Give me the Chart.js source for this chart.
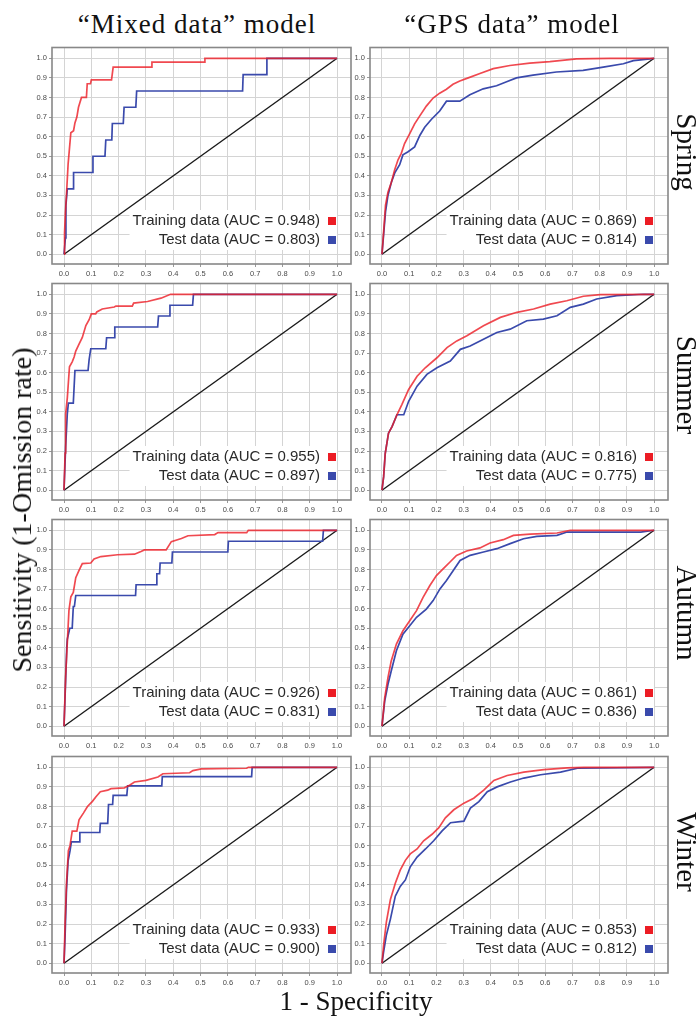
<!DOCTYPE html>
<html>
<head>
<meta charset="utf-8">
<script src="https://cdn.jsdelivr.net/npm/chart.js@4.4.1/dist/chart.umd.min.js"></script>
<style>
  html, body { margin: 0; padding: 0; background: #fff; }
  #page { position: relative; width: 699px; height: 1021px; overflow: hidden; font-family: 'Liberation Serif', 'Times New Roman', serif; color: #111; }
  #page canvas { position: absolute; }
  .title { position: absolute; top: 11px; width: 320px; text-align: center; font-size: 27px; line-height: 27px; letter-spacing: 1px; white-space: nowrap; }
  .rot { position: absolute; white-space: nowrap; line-height: 1; }
</style>
</head>
<body>
<div id="page"></div>
<script>
// panel labels
const MODELS = ['\u201CMixed data\u201D model', '\u201CGPS data\u201D model']
const SEASONS = ['Spring', 'Summer', 'Autumn', 'Winter']
const TICKS = [0, 0.1, 0.2, 0.3, 0.4, 0.5, 0.6, 0.7, 0.8, 0.9, 1.0]

// AUC per season (rows) x model (cols)
const AUC_TRAIN = [[0.948, 0.869], [0.955, 0.816], [0.926, 0.861], [0.933, 0.853]]
const AUC_TEST = [[0.803, 0.814], [0.897, 0.775], [0.831, 0.836], [0.900, 0.812]]

// ROC curves: [1 - specificity, sensitivity]
const mixSpringTrain = [[0,0],[0.002,0.11],[0.005,0.21],[0.01,0.33],[0.015,0.46],[0.02,0.54],[0.025,0.62],[0.035,0.63],[0.04,0.67],[0.047,0.70],[0.053,0.75],[0.064,0.80],[0.082,0.80],[0.085,0.87],[0.097,0.87],[0.1,0.89],[0.174,0.89],[0.18,0.955],[0.32,0.955],[0.322,0.98],[0.513,0.98],[0.516,1],[1,1]]
const mixSpringTest = [[0,0],[0.005,0.083],[0.007,0.25],[0.012,0.333],[0.033,0.333],[0.035,0.417],[0.104,0.417],[0.106,0.5],[0.15,0.5],[0.153,0.583],[0.175,0.583],[0.177,0.667],[0.217,0.667],[0.22,0.75],[0.263,0.75],[0.266,0.833],[0.654,0.833],[0.656,0.917],[0.74,0.917],[0.743,1],[1,1]]
const mixSummerTrain = [[0,0],[0.004,0.19],[0.006,0.39],[0.012,0.47],[0.016,0.55],[0.02,0.63],[0.03,0.655],[0.037,0.68],[0.043,0.71],[0.055,0.745],[0.067,0.78],[0.08,0.84],[0.092,0.87],[0.1,0.9],[0.116,0.9],[0.12,0.91],[0.14,0.925],[0.184,0.935],[0.19,0.94],[0.25,0.94],[0.255,0.955],[0.306,0.963],[0.355,0.98],[0.39,1],[1,1]]
const mixSummerTest = [[0,0],[0.006,0.222],[0.012,0.389],[0.016,0.444],[0.034,0.444],[0.04,0.611],[0.088,0.611],[0.092,0.667],[0.098,0.722],[0.153,0.722],[0.156,0.778],[0.184,0.778],[0.186,0.833],[0.343,0.833],[0.346,0.889],[0.386,0.889],[0.388,0.944],[0.471,0.944],[0.474,1],[1,1]]
const mixAutumnTrain = [[0,0],[0.006,0.257],[0.012,0.424],[0.018,0.59],[0.025,0.66],[0.034,0.683],[0.043,0.758],[0.055,0.795],[0.067,0.83],[0.098,0.833],[0.11,0.853],[0.135,0.866],[0.196,0.875],[0.258,0.878],[0.282,0.892],[0.294,0.9],[0.374,0.9],[0.393,0.942],[0.43,0.958],[0.454,0.972],[0.552,0.978],[0.564,0.988],[0.669,0.988],[0.675,1],[1,1]]
const mixAutumnTest = [[0,0],[0.004,0.157],[0.01,0.4],[0.012,0.444],[0.021,0.5],[0.03,0.5],[0.034,0.611],[0.038,0.611],[0.043,0.667],[0.262,0.667],[0.264,0.722],[0.337,0.722],[0.34,0.778],[0.35,0.778],[0.352,0.833],[0.395,0.833],[0.397,0.889],[0.6,0.889],[0.602,0.944],[0.947,0.944],[0.95,1],[1,1]]
const mixWinterTrain = [[0,0],[0.004,0.206],[0.009,0.406],[0.016,0.574],[0.022,0.6],[0.03,0.674],[0.047,0.674],[0.055,0.732],[0.071,0.766],[0.086,0.8],[0.104,0.826],[0.117,0.85],[0.133,0.875],[0.16,0.883],[0.172,0.891],[0.221,0.895],[0.24,0.908],[0.258,0.925],[0.3,0.933],[0.344,0.95],[0.362,0.967],[0.46,0.972],[0.472,0.983],[0.503,0.992],[0.669,0.995],[0.675,1],[1,1]]
const mixWinterTest = [[0,0],[0.004,0.14],[0.009,0.373],[0.015,0.523],[0.022,0.574],[0.027,0.619],[0.055,0.619],[0.058,0.667],[0.131,0.667],[0.133,0.714],[0.16,0.714],[0.163,0.81],[0.178,0.81],[0.18,0.857],[0.23,0.857],[0.233,0.905],[0.358,0.905],[0.36,0.952],[0.687,0.952],[0.689,1],[1,1]]

const gpsSpringTrain = [[0,0],[0.007,0.133],[0.013,0.25],[0.022,0.316],[0.034,0.365],[0.047,0.432],[0.059,0.482],[0.071,0.515],[0.083,0.565],[0.102,0.615],[0.12,0.665],[0.139,0.706],[0.163,0.756],[0.188,0.797],[0.212,0.822],[0.237,0.842],[0.261,0.867],[0.286,0.884],[0.317,0.9],[0.36,0.922],[0.409,0.947],[0.47,0.963],[0.543,0.975],[0.617,0.983],[0.715,0.997],[0.838,1],[1,1]]
const gpsSpringTest = [[0,0],[0.007,0.116],[0.013,0.216],[0.022,0.3],[0.034,0.365],[0.047,0.415],[0.065,0.457],[0.077,0.507],[0.096,0.523],[0.12,0.548],[0.139,0.606],[0.157,0.648],[0.182,0.689],[0.212,0.731],[0.237,0.781],[0.286,0.781],[0.323,0.814],[0.372,0.844],[0.421,0.86],[0.458,0.88],[0.494,0.9],[0.555,0.914],[0.641,0.93],[0.739,0.938],[0.813,0.955],[0.887,0.972],[0.924,0.988],[0.985,0.997],[1,1]]
const gpsSummerTrain = [[0,0],[0.006,0.068],[0.012,0.188],[0.024,0.291],[0.037,0.325],[0.055,0.385],[0.073,0.437],[0.098,0.514],[0.129,0.582],[0.159,0.625],[0.202,0.676],[0.239,0.728],[0.275,0.762],[0.312,0.788],[0.373,0.839],[0.435,0.882],[0.496,0.908],[0.557,0.925],[0.618,0.95],[0.679,0.967],[0.74,0.99],[0.802,0.998],[1,1]]
const gpsSummerTest = [[0,0],[0.006,0.068],[0.012,0.188],[0.024,0.291],[0.037,0.325],[0.055,0.385],[0.08,0.385],[0.098,0.454],[0.129,0.531],[0.165,0.591],[0.202,0.625],[0.251,0.659],[0.288,0.719],[0.324,0.736],[0.373,0.77],[0.422,0.805],[0.471,0.822],[0.532,0.865],[0.593,0.873],[0.643,0.89],[0.692,0.933],[0.74,0.95],[0.789,0.976],[0.863,0.993],[0.961,1],[1,1]]
const gpsAutumnTrain = [[0,0],[0.01,0.145],[0.022,0.248],[0.034,0.333],[0.053,0.419],[0.077,0.487],[0.102,0.538],[0.127,0.59],[0.151,0.658],[0.176,0.718],[0.2,0.769],[0.231,0.812],[0.25,0.838],[0.274,0.872],[0.311,0.894],[0.36,0.91],[0.397,0.935],[0.446,0.952],[0.483,0.974],[0.545,0.98],[0.643,0.986],[0.692,1],[1,1]]
const gpsAutumnTest = [[0,0],[0.01,0.128],[0.022,0.214],[0.034,0.282],[0.053,0.385],[0.077,0.47],[0.102,0.513],[0.127,0.556],[0.163,0.598],[0.188,0.641],[0.213,0.701],[0.237,0.744],[0.262,0.795],[0.287,0.846],[0.324,0.872],[0.373,0.889],[0.422,0.906],[0.471,0.932],[0.52,0.957],[0.569,0.969],[0.643,0.974],[0.68,0.991],[0.951,0.991],[1,1]]
const gpsWinterTrain = [[0,0],[0.006,0.092],[0.016,0.208],[0.031,0.325],[0.049,0.408],[0.067,0.475],[0.086,0.525],[0.104,0.558],[0.129,0.583],[0.153,0.625],[0.184,0.658],[0.209,0.692],[0.233,0.742],[0.264,0.783],[0.301,0.817],[0.337,0.842],[0.374,0.883],[0.411,0.933],[0.46,0.958],[0.521,0.975],[0.595,0.988],[0.681,0.997],[0.742,1],[1,1]]
const gpsWinterTest = [[0,0],[0.006,0.058],[0.016,0.142],[0.031,0.225],[0.049,0.342],[0.067,0.392],[0.086,0.425],[0.104,0.492],[0.129,0.542],[0.16,0.583],[0.19,0.625],[0.221,0.675],[0.252,0.717],[0.301,0.725],[0.325,0.792],[0.356,0.825],[0.387,0.875],[0.423,0.9],[0.472,0.925],[0.521,0.945],[0.583,0.962],[0.656,0.975],[0.718,0.995],[1,1]]

const DIAG = [[0, 0], [1, 1]]

const TRAIN = [[mixSpringTrain, gpsSpringTrain], [mixSummerTrain, gpsSummerTrain], [mixAutumnTrain, gpsAutumnTrain], [mixWinterTrain, gpsWinterTrain]]
const TEST = [[mixSpringTest, gpsSpringTest], [mixSummerTest, gpsSummerTest], [mixAutumnTest, gpsAutumnTest], [mixWinterTest, gpsWinterTest]]

// layout (px)
const COL_LEFT = [52, 370], COL_W = [299, 298]
const ROW_TOP = [45, 281, 517, 754], ROW_H = 219
const AX_W = 24, AX_H = 16, PAD = 4
const RED = '#ec1c24', BLUE = '#3a4aac'

const page = document.getElementById('page')
const xy = pts => pts.map(p => ({ x: p[0], y: p[1] }))

// frame + in-plot legend (text left, swatch right)
const panelDecor = {
  id: 'panelDecor',
  beforeDatasetsDraw(chart) {
    const { ctx, chartArea: a } = chart
    ctx.save()
    ctx.font = '15px "Liberation Sans", Arial, sans-serif'
    const w = Math.max(...chart.data.datasets.slice(0, 2).map(d => ctx.measureText(d.label).width))
    ctx.fillStyle = '#fff'
    ctx.fillRect(a.right - 31 - w - 3, a.bottom - 54, w + 20, 40)
    ctx.restore()
  },
  afterDraw(chart) {
    const { ctx, chartArea: a } = chart
    ctx.save()
    ctx.strokeStyle = '#888'; ctx.lineWidth = 1.6
    ctx.strokeRect(a.left, a.top, a.right - a.left, a.bottom - a.top)
    ctx.font = '15px "Liberation Sans", Arial, sans-serif'
    ctx.textAlign = 'right'; ctx.textBaseline = 'middle'
    chart.data.datasets.slice(0, 2).forEach((ds, i) => {
      const y = a.bottom - (i === 0 ? 43 : 24)
      ctx.fillStyle = '#2a2a2a'; ctx.fillText(ds.label, a.right - 31, y)
      ctx.fillStyle = ds.swatch; ctx.fillRect(a.right - 23, y - 4, 8, 8)
    })
    ctx.restore()
  }
}

function axis(min, max, fit) {
  return {
    type: 'linear', min, max,
    afterBuildTicks: s => { s.ticks = TICKS.map(v => ({ value: v })) },
    afterFit: fit,
    ticks: { callback: v => v.toFixed(1), font: { size: 7.5, family: '"Liberation Sans", Arial, sans-serif' }, color: '#4a4a4a', padding: 2, maxRotation: 0, autoSkip: false },
    grid: { color: '#d4d4d4', tickColor: '#999', tickLength: 3 },
    border: { display: false },
  }
}

SEASONS.forEach((season, r) => {
  MODELS.forEach((model, c) => {
    const cv = document.createElement('canvas')
    cv.width = AX_W + COL_W[c] + PAD
    cv.height = PAD + ROW_H + AX_H
    cv.style.left = (COL_LEFT[c] - AX_W) + 'px'
    cv.style.top = (ROW_TOP[r] - PAD) + 'px'
    page.appendChild(cv)
    new Chart(cv, {
      type: 'line',
      data: {
        datasets: [
          { label: 'Training data (AUC = ' + AUC_TRAIN[r][c].toFixed(3) + ')', data: xy(TRAIN[r][c]), borderColor: 'rgba(236,28,36,0.8)', swatch: RED, borderWidth: 1.7 },
          { label: 'Test data (AUC = ' + AUC_TEST[r][c].toFixed(3) + ')', data: xy(TEST[r][c]), borderColor: BLUE, swatch: BLUE, borderWidth: 1.7 },
          { label: 'Random', data: xy(DIAG), borderColor: '#1a1a1a', borderWidth: 1.4 },
        ],
      },
      options: {
        responsive: false, animation: false, devicePixelRatio: 1,
        layout: { padding: { top: PAD, right: PAD, left: 0, bottom: 0 } },
        elements: { point: { radius: 0 }, line: { tension: 0, fill: false } },
        plugins: { legend: { display: false }, tooltip: { enabled: false } },
        scales: {
          x: axis(-0.044, 1.051, s => { s.height = AX_H }),
          y: axis(-0.05, 1.055, s => { s.width = AX_W }),
        },
      },
      plugins: [panelDecor],
    })
  })
})

// headings and axis titles
const TITLE_X = [197, 512]
MODELS.forEach((m, c) => {
  const d = document.createElement('div')
  d.className = 'title'; d.textContent = m
  d.style.left = (TITLE_X[c] - 160) + 'px'
  page.appendChild(d)
})

function rotLabel(text, cx, cy, deg, size) {
  const d = document.createElement('div')
  d.className = 'rot'; d.textContent = text
  d.style.fontSize = size + 'px'
  d.style.left = cx + 'px'; d.style.top = cy + 'px'
  d.style.transform = 'translate(-50%, -50%) rotate(' + deg + 'deg)'
  page.appendChild(d)
}
const SEASON_Y = [152, 385, 613, 852]
SEASONS.forEach((s, r) => rotLabel(s, 686, SEASON_Y[r], 90, 29))
rotLabel('Sensitivity (1-Omission rate)', 22, 510, -90, 28)
rotLabel('1 - Specificity', 356, 1001, 0, 27)
</script>
</body>
</html>
